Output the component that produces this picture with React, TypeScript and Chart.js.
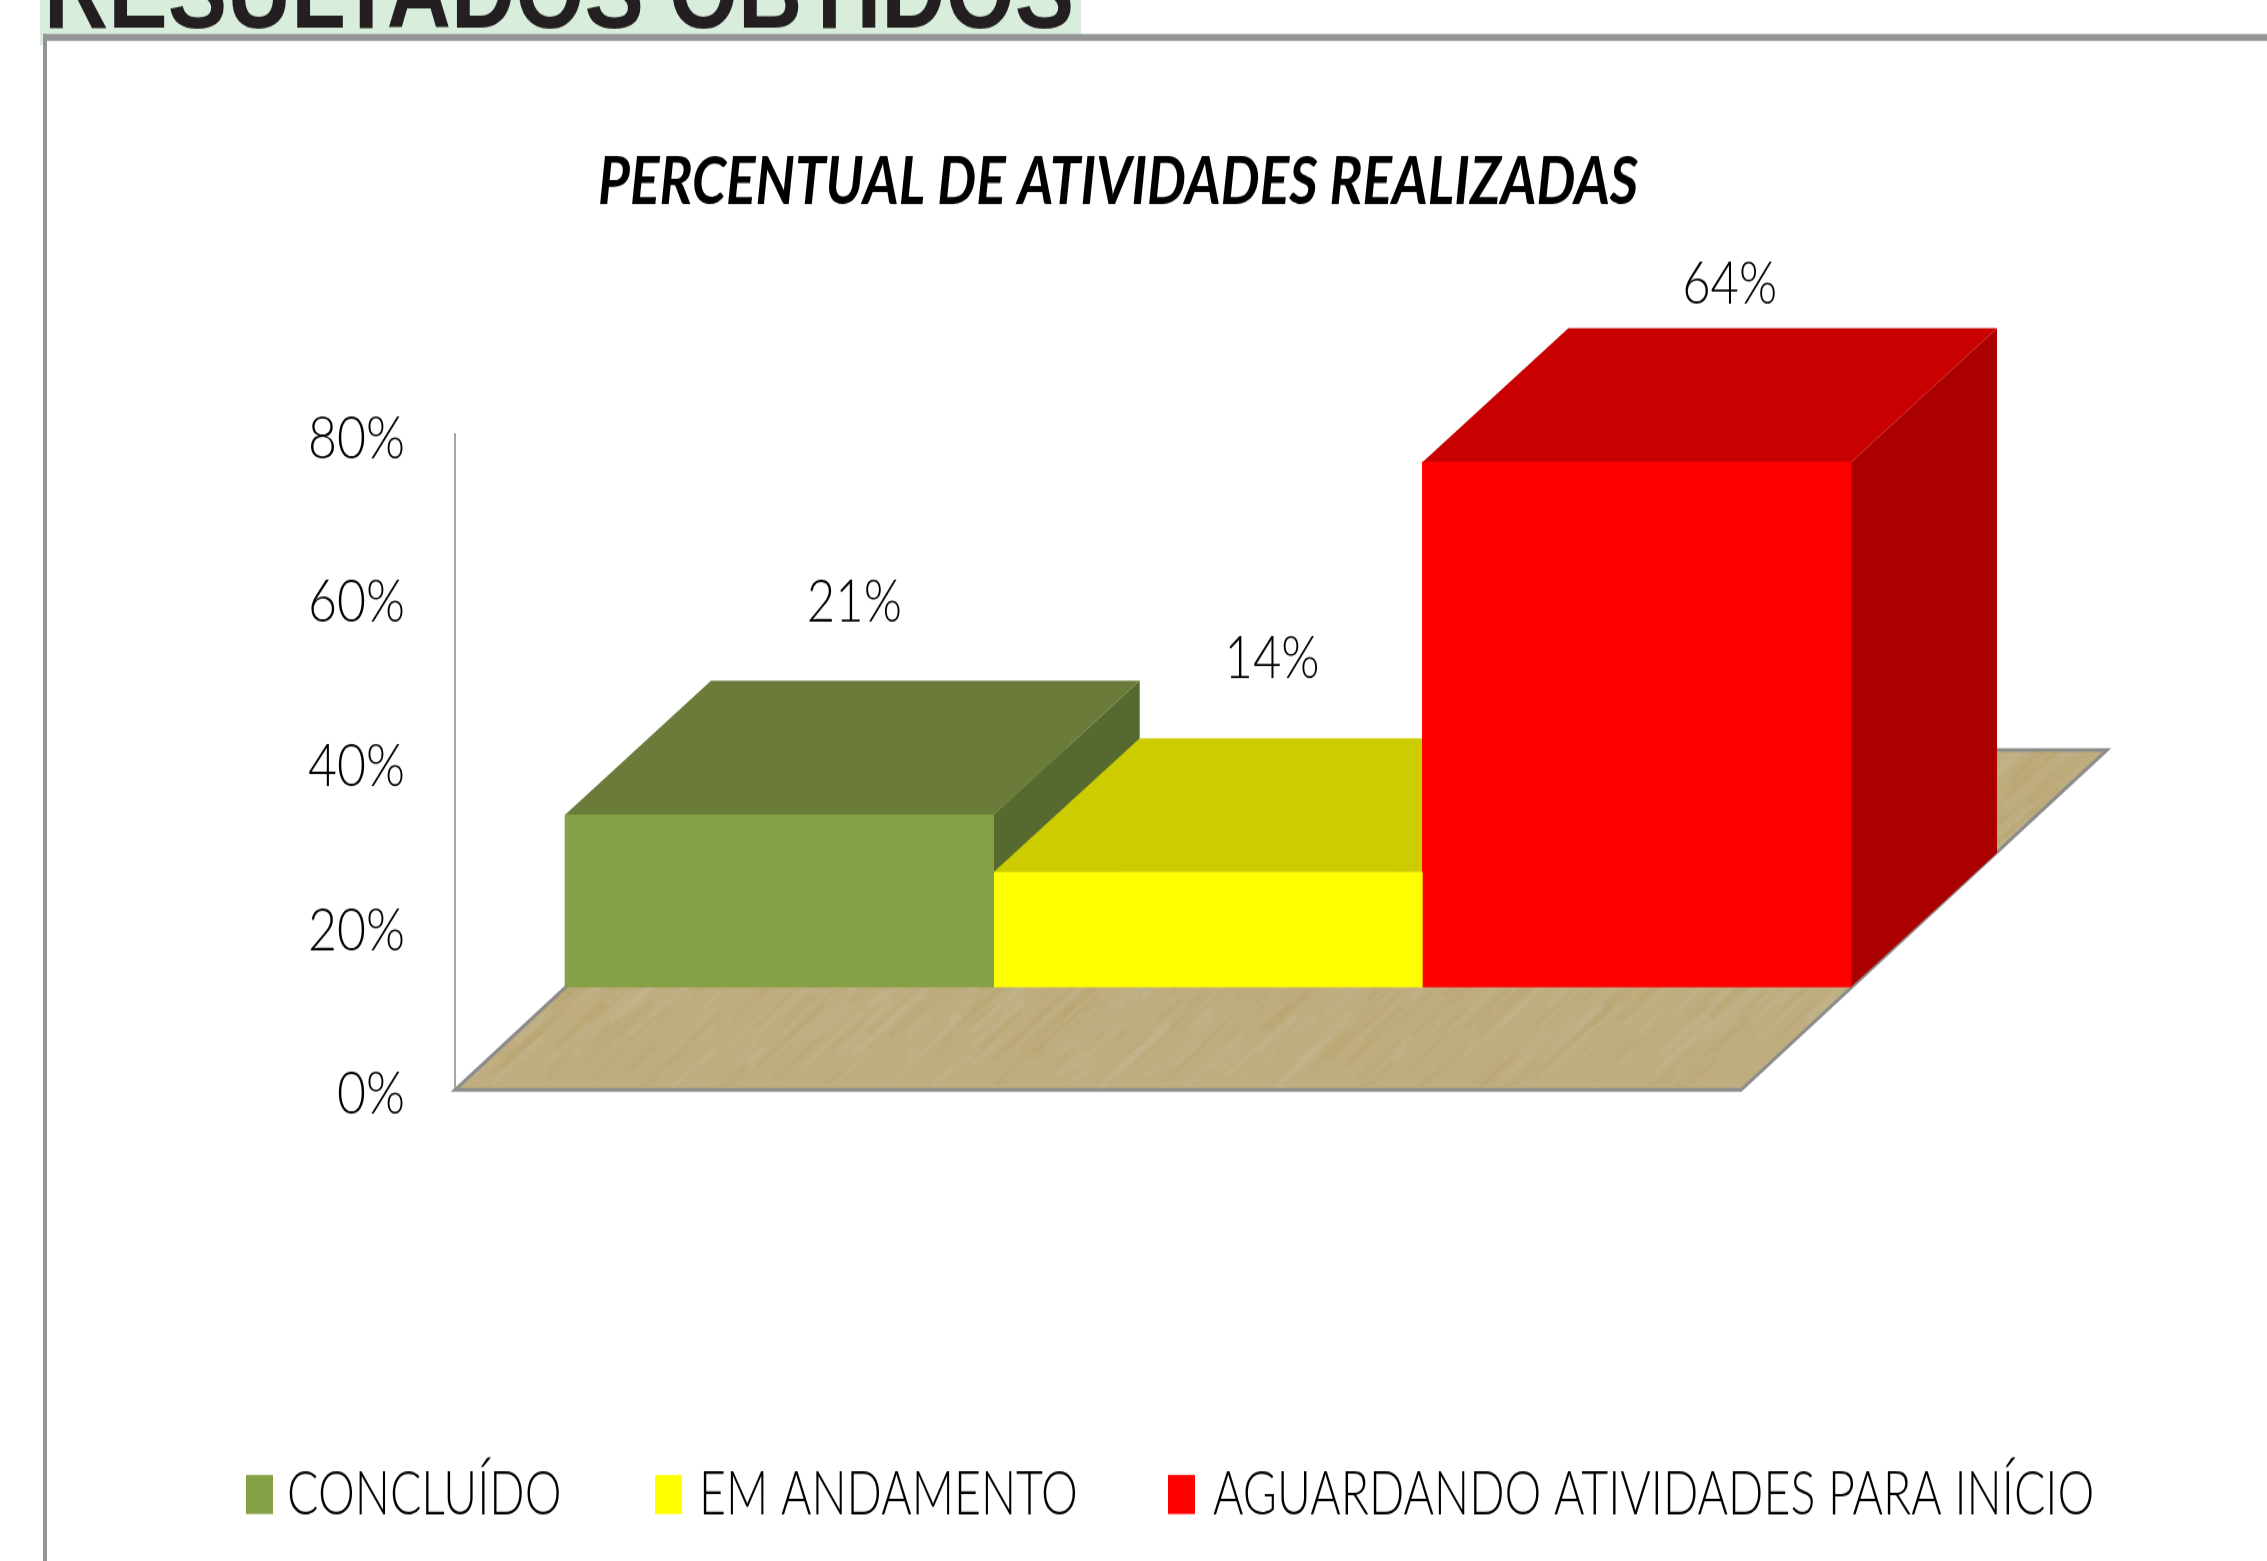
import React, { useEffect, useRef } from "react";
import { Chart, registerables } from "chart.js";

Chart.register(...registerables);

const categories = ["Atividades"];
const seriesNames = ["CONCLUÍDO", "EM ANDAMENTO", "AGUARDANDO ATIVIDADES PARA INÍCIO"];
const seriesValues = [21, 14, 64];
const frontColors = ["#85A045", "#FFFF00", "#FF0000"];
const topColors = ["#6A7B3A", "#CCCC00", "#C80000"];
const sideColors = ["#566A2F", "#A8A800", "#AA0000"];
const yTicks = [0, 20, 40, 60, 80];
const titleText = "PERCENTUAL DE ATIVIDADES REALIZADAS";
const headerText = "RESULTADOS OBTIDOS";

const W = 2267;
const H = 1561;
const SY = 1.2;
const cy = (y: number) => y / SY;
const CH = Math.round(H / SY);
const LEFT = 455;
const RIGHT = 1741;
const TOP = 434;
const BOTTOM = 1090;
const BAR_DX = 110;
const BAR_DY = cy(-103);
const DEPTH_X = 146;
const DEPTH_Y = cy(-134);
const FONT = "Lato, Carlito, 'Open Sans', sans-serif";
const labelShift = [[75, -212], [64, -213], [93, -178]];

const pseudo = (n: number) => {
  const s = Math.sin(n * 12.9898) * 43758.5453;
  return s - Math.floor(s);
};

const poly = (ctx: CanvasRenderingContext2D, pts: number[][], fill: string) => {
  ctx.beginPath();
  pts.forEach((p, i) => (i ? ctx.lineTo(p[0], p[1]) : ctx.moveTo(p[0], p[1])));
  ctx.closePath();
  ctx.fillStyle = fill;
  ctx.fill();
};

const chart3d = {
  id: "chart3d",
  afterLayout(chart: any) {
    if (chart.titleBlock) {
      chart.titleBlock.left = 0;
      chart.titleBlock.right = 2236;
    }
  },
  beforeDraw(chart: any) {
    const ctx: CanvasRenderingContext2D = chart.ctx;
    ctx.save();
    ctx.fillStyle = "#D8EDDC";
    ctx.fillRect(40, 0, 1041, cy(35));
    ctx.fillRect(40, 0, 3, cy(45));
    ctx.fillStyle = "#231F20";
    ctx.font = "bold 89px 'Liberation Sans', Arial, sans-serif";
    ctx.textBaseline = "alphabetic";
    ctx.textAlign = "left";
    ctx.fillText(headerText, 44, cy(27));
    ctx.fillStyle = "#959595";
    ctx.fillRect(43, cy(34), W - 43, cy(7));
    ctx.fillRect(43, cy(34), 4, CH);
    ctx.restore();
  },
  beforeDatasetsDraw(chart: any) {
    const ctx: CanvasRenderingContext2D = chart.ctx;
    const a = chart.chartArea;
    const fdx = 366;
    const fdy = cy(-340);
    const floor = [
      [a.left, a.bottom],
      [a.right, a.bottom],
      [a.right + fdx, a.bottom + fdy],
      [a.left + fdx, a.bottom + fdy],
    ];
    ctx.save();
    poly(ctx, floor, "#BFAD80");
    ctx.clip();
    for (let i = 0; i < 1500; i++) {
      const x = a.left - 100 + pseudo(i + 1) * (a.right - a.left + fdx + 100);
      const y = a.bottom + fdy + pseudo(i + 2000) * -fdy;
      const len = 15 + pseudo(i + 4000) * 60;
      ctx.strokeStyle = i % 2 ? "rgba(198,186,150,0.22)" : "rgba(184,162,106,0.24)";
      ctx.lineWidth = 2 + pseudo(i + 6000) * 6;
      ctx.beginPath();
      ctx.moveTo(x, y);
      ctx.lineTo(x + len, y - len * 0.75);
      ctx.stroke();
    }
    ctx.restore();
    ctx.save();
    ctx.strokeStyle = "#8C8C8C";
    ctx.lineWidth = 3;
    ctx.beginPath();
    ctx.moveTo(floor[3][0], floor[3][1]);
    ctx.lineTo(floor[0][0], floor[0][1]);
    ctx.lineTo(floor[1][0], floor[1][1]);
    ctx.lineTo(floor[2][0], floor[2][1]);
    ctx.lineTo(floor[3][0], floor[3][1]);
    ctx.stroke();
    ctx.restore();

    [0, 1, 2].forEach((i) => {
      const el = chart.getDatasetMeta(i).data[0];
      const l = el.x - el.width / 2 + BAR_DX;
      const r = el.x + el.width / 2 + BAR_DX;
      const t = el.y + BAR_DY;
      const b = el.base + BAR_DY;
      poly(ctx, [[r, t], [r + DEPTH_X, t + DEPTH_Y], [r + DEPTH_X, b + DEPTH_Y], [r, b]], sideColors[i]);
      poly(ctx, [[l, t], [r, t], [r + DEPTH_X, t + DEPTH_Y], [l + DEPTH_X, t + DEPTH_Y]], topColors[i]);
    });
  },
  beforeDatasetDraw(chart: any) {
    chart.ctx.save();
    chart.ctx.translate(BAR_DX, BAR_DY);
  },
  afterDatasetDraw(chart: any) {
    chart.ctx.restore();
  },
  afterDraw(chart: any) {
    const ctx: CanvasRenderingContext2D = chart.ctx;
    ctx.save();
    ctx.fillStyle = "#000";
    ctx.textBaseline = "middle";
    ctx.textAlign = "center";
    ctx.font = `300 49px ${FONT}`;
    chart.data.datasets.forEach((ds: any, i: number) => {
      const el = chart.getDatasetMeta(i).data[0];
      ctx.fillText(
        `${ds.data[0]}%`,
        el.x + BAR_DX + labelShift[i][0],
        el.y + BAR_DY + cy(labelShift[i][1])
      );
    });
    // legend
    const boxes = [246, 655, 1168];
    const textX = [287, 699, 1213];
    ctx.textAlign = "left";
    ctx.font = `300 52px ${FONT}`;
    chart.data.datasets.forEach((ds: any, i: number) => {
      ctx.fillStyle = ds.backgroundColor;
      ctx.fillRect(boxes[i], cy(1475), 27, cy(39));
      ctx.fillStyle = "#000";
      ctx.save();
      ctx.translate(textX[i], cy(1494));
      ctx.scale(0.895, 1);
      ctx.fillText(ds.label, 0, 0);
      ctx.restore();
    });
    ctx.restore();
  },
};

export default function App() {
  const ref = useRef<HTMLCanvasElement>(null);
  useEffect(() => {
    document.body.style.margin = "0";
    document.body.style.overflow = "hidden";
    const chart = new Chart(ref.current!, {
      type: "bar",
      data: {
        labels: categories,
        datasets: seriesNames.map((label, i) => ({
          label,
          data: [seriesValues[i]],
          backgroundColor: frontColors[i],
          categoryPercentage: 1,
          barPercentage: 1,
          clip: false as any,
        })),
      },
      options: {
        animation: false,
        responsive: false,
        devicePixelRatio: 1,
        layout: { padding: { left: 0, right: W - RIGHT, top: 0, bottom: CH - cy(BOTTOM) } },
        plugins: {
          legend: { display: false },
          tooltip: { enabled: false },
          title: {
            display: true,
            text: titleText,
            color: "#000",
            font: { family: FONT, size: 55, style: "italic", weight: "bold", lineHeight: 1 },
            padding: { top: cy(150), bottom: cy(TOP) - cy(150) - 55 },
          },
        },
        scales: {
          x: { display: false, grid: { display: false } },
          y: {
            min: 0,
            max: 80,
            afterFit: (s: any) => {
              s.width = LEFT;
            },
            afterBuildTicks: (s: any) => {
              s.ticks = yTicks.map((value) => ({ value }));
            },
            grid: { display: false, drawTicks: false },
            border: { color: "#A6A6A6", width: 2 },
            ticks: {
              padding: 50,
              labelOffset: 4,
              color: "#000",
              font: { family: FONT, size: 50, weight: "300" },
              callback: (v: any) => `${v}%`,
            },
          },
        },
      },
      plugins: [chart3d],
    } as any);
    return () => chart.destroy();
  }, []);
  return (
    <div
      style={{
        position: "absolute",
        left: 0,
        top: 0,
        width: W,
        height: CH,
        transform: `scaleY(${SY})`,
        transformOrigin: "0 0",
      }}
    >
      <canvas ref={ref} width={W} height={CH} style={{ display: "block" }} />
    </div>
  );
}
